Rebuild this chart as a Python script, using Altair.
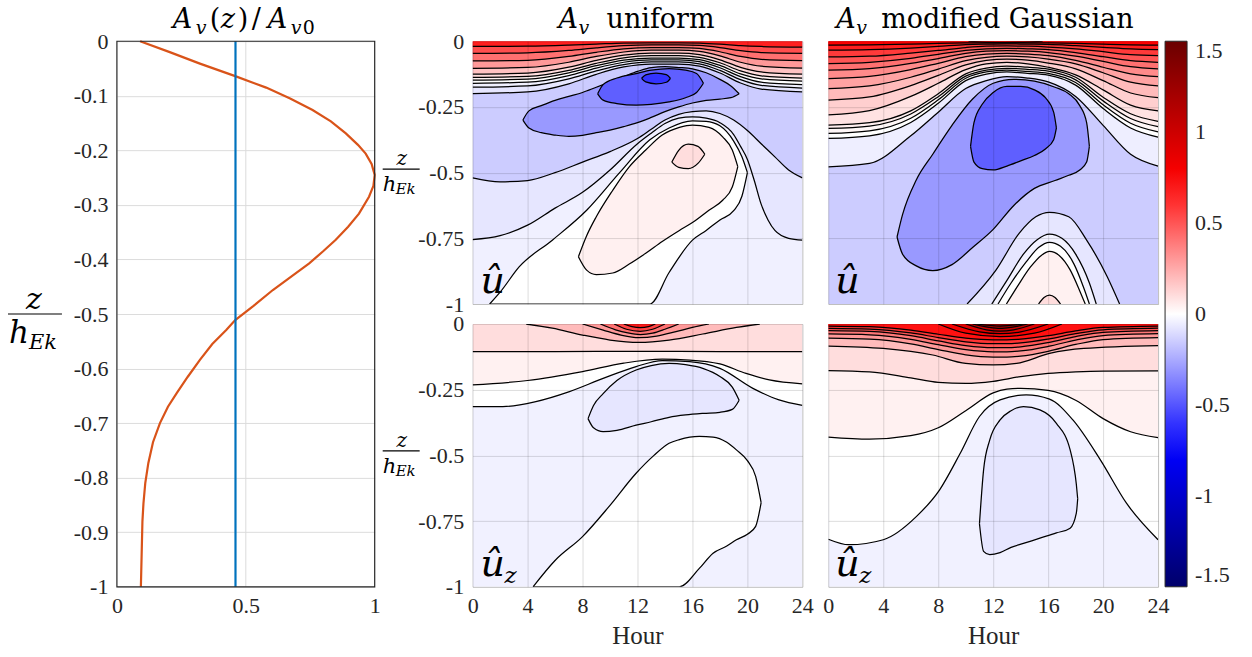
import altair as alt
import pandas as pd

SERIF = "Liberation Serif"
MATH = "DejaVu Serif"
INK = "#262626"

# ---------------- colour bar ----------------
CBAR_STOPS = [-1.5, -0.75, 0.0, 0.75, 1.5]
CBAR_COLORS = ["#00006a", "#0000ff", "#ffffff", "#ff0000", "#6a0000"]
CBAR_TICKS = [1.5, 1, 0.5, 0, -0.5, -1, -1.5]

# ---------------- axis ticks ----------------
HOUR_TICKS = [0, 4, 8, 12, 16, 20, 24]
DEPTH_TICKS = [0, -0.25, -0.5, -0.75, -1]
AV_X_TICKS = [0, 0.5, 1]
AV_Y_TICKS = [0, -0.1, -0.2, -0.3, -0.4, -0.5, -0.6, -0.7, -0.8, -0.9, -1]

# ---------------- left panel: A_v(z)/A_v0 ----------------
AV_DEPTH = [0, .02, .041, .064, .085, .105, .126, .147, .169, .19, .206, .225, .245, .265,
            .285, .316, .34, .364, .385, .407, .43, .456, .485, .511, .529, .555, .584, .615,
            .645, .67, .70, .735, .773, .81, .847, .88, .92, .96, 1.0]
AV_RATIO = [.09, .205, .322, .459, .579, .672, .759, .83, .888, .935, .965, .988, 1.0, .995,
            .978, .939, .897, .849, .80, .746, .68, .605, .53, .459, .425, .37, .322, .275,
            .232, .198, .167, .14, .122, .11, .103, .099, .097, .095, .093]
AV_UNIFORM = 0.46

# ---------------- panel 1: A_v uniform, u-hat (depths positive downward) ----------------
U_BG = -0.045
U_B_H = [0, 2, 4, 6, 8, 10, 12, 13, 14, 15, 16, 17, 18, 19, 19.5, 20, 20.5, 21, 21.5, 22, 23, 24]
U_B_D = [.755, .74, .70, .635, .575, .49, .39, .35, .313, .293, .288, .293, .31, .355, .40, .45,
         .53, .62, .68, .72, .75, .757]
U_A_H = [0, 2, 4, 6, 8, 10, 12, 13, 14, 15, 16, 17, 18, 19, 20, 21, 22, 23, 24]
U_A_D = [.52, .535, .53, .50, .46, .42, .37, .335, .30, .278, .268, .265, .275, .30, .34, .39,
         .44, .49, .52]
U_B9_H = [3.66, 4.1, 5, 6, 7, 8, 9, 10, 11, 12, 13, 14, 15, 16, 17, 18, 18.8, 19.4]
U_B9_T = [.30, .265, .245, .225, .21, .195, .175, .155, .135, .115, .10, .097, .10, .105, .12,
          .145, .17, .20]
U_B9_B = [.30, .33, .348, .357, .362, .358, .348, .338, .325, .31, .29, .268, .25, .235, .225,
          .22, .215, .20]
U_B6_H = [9.1, 9.5, 10.5, 11.9, 13, 14.3, 15.5, 16.3, 16.8]
U_B6_T = [.20, .165, .14, .123, .11, .104, .11, .123, .16]
U_B6_B = [.20, .224, .237, .243, .24, .231, .215, .195, .16]
U_B3_H = [12.3, 12.6, 13.35, 14.1, 14.4]
U_B3_T = [.141, .128, .121, .127, .141]
U_B3_B = [.141, .155, .162, .156, .141]
U_T_H = [1.24, 2, 3.4, 5.8, 8.3, 10.7, 12.9, 14.3, 16.0, 17.0, 18.0, 19.0, 19.6, 20.0]
U_T_T = [1.0, .955, .858, .757, .643, .50, .375, .33, .303, .305, .322, .38, .44, .50]
U_T_B = [1.0, 1.0, 1.0, 1.0, 1.0, 1.0, 1.0, .88, .757, .72, .68, .645, .59, .50]
U_P1_H = [7.7, 8.3, 9.0, 10.2, 11.4, 12.6, 13.8, 15.05, 16.0, 17.2, 18.2, 18.9, 19.3]
U_P1_T = [.82, .74, .668, .567, .478, .414, .357, .328, .319, .328, .364, .414, .477]
U_P1_B = [.82, .871, .888, .882, .848, .807, .762, .72, .69, .643, .605, .555, .477]
U_P2_H = [14.5, 15.0, 15.7, 16.4, 16.9]
U_P2_T = [.46, .415, .392, .40, .43]
U_P2_B = [.46, .48, .485, .465, .43]
U_L_H = [0, 4, 7, 9, 11, 13, 15, 16.5, 18, 19.5, 21, 24]
U_L1 = [.020, .019, .015, .011, .007, .006, .006, .007, .011, .017, .020, .022]
U_L2 = [.046, .044, .035, .025, .017, .014, .014, .016, .024, .036, .043, .046]
U_L3 = [.075, .0725, .058, .042, .029, .024, .024, .0275, .040, .058, .069, .074]
U_L4 = [.103, .0996, .080, .058, .041, .034, .034, .039, .056, .080, .095, .102]
U_L5 = [.125, .121, .0986, .073, .053, .045, .045, .0506, .0706, .0994, .117, .125]
U_L6 = [.138, .134, .111, .084, .063, .055, .055, .061, .082, .113, .1315, .140]
U_L7 = [.148, .144, .120, .093, .072, .064, .064, .070, .092, .124, .143, .152]
U_L8 = [.160, .156, .131, .102, .080, .071, .071, .078, .101, .135, .156, .165]
U_L9 = [.175, .170, .143, .113, .089, .079, .079, .086, .111, .146, .168, .178]
U_L10 = [.199, .193, .162, .126, .098, .087, .087, .095, .121, .159, .182, .193]
U_L_VALUES = [0.66, 0.52, 0.42, 0.30, 0.18, 0.10, 0.04, 0.0, -0.04, -0.075]

# ---------------- panel 2: A_v modified Gaussian, u-hat ----------------
G_BG = -0.15
G_M_H = [0, 3, 6, 8, 10, 11.5, 13, 14.5, 16, 18, 20, 22, 24]
G_M1 = [.015, .014, .011, .0085, .0065, .006, .006, .006, .0065, .0083, .011, .0137, .015]
G_M2 = [.034, .032, .026, .020, .013, .011, .010, .011, .012, .017, .023, .029, .032]
G_M3 = [.060, .057, .045, .035, .024, .019, .018, .019, .022, .029, .040, .051, .055]
G_M4 = [.085, .080, .065, .050, .035, .029, .027, .029, .032, .043, .059, .074, .080]
G_M5 = [.110, .104, .084, .066, .046, .038, .036, .038, .043, .057, .077, .097, .105]
G_M6 = [.142, .134, .108, .084, .059, .049, .046, .049, .055, .073, .099, .124, .135]
G_M7 = [.180, .170, .137, .106, .074, .061, .057, .060, .068, .086, .120, .156, .170]
G_M8 = [.224, .212, .169, .130, .090, .073, .068, .072, .083, .105, .150, .197, .215]
G_M9 = [.280, .264, .210, .160, .108, .086, .080, .086, .099, .128, .185, .243, .265]
G_M10 = [.319, .310, .265, .200, .124, .102, .095, .099, .106, .137, .213, .276, .305]
G_M11 = [.332, .323, .277, .211, .133, .110, .103, .107, .114, .147, .227, .294, .325]
G_M12 = [.351, .341, .293, .223, .141, .117, .110, .115, .122, .157, .242, .312, .345]
G_M13 = [.370, .360, .309, .236, .150, .125, .117, .122, .129, .167, .256, .330, .365]
G_M14 = [.478, .465, .360, .270, .180, .150, .135, .140, .155, .210, .320, .430, .475]
G_M_VALUES = [0.76, 0.66, 0.58, 0.50, 0.42, 0.34, 0.27, 0.20, 0.14, 0.085, 0.05, 0.025, 0.0, -0.05]
G_B9_H = [5.0, 5.4, 6.4, 7.6, 9.0, 10.5, 12, 13.5, 15, 16.5, 17.5, 18.3, 18.8, 19.0]
G_B9_T = [.745, .66, .528, .43, .32, .22, .16, .145, .152, .175, .20, .245, .31, .40]
G_B9_B = [.745, .81, .855, .873, .85, .785, .716, .625, .56, .53, .51, .49, .46, .40]
G_B6_H = [10.35, 10.6, 11.2, 12, 13, 14, 15, 15.8, 16.4, 16.6]
G_B6_T = [.40, .31, .24, .195, .172, .172, .185, .215, .27, .33]
G_B6_B = [.40, .46, .485, .49, .475, .455, .435, .41, .375, .33]
G_A1_H = [10.1, 12.2, 13.9, 15.1, 16.1, 17.5, 18.8, 20.3, 21.2]
G_A1_T = [1.0, .871, .73, .668, .651, .668, .757, .896, 1.0]
G_A2_H = [11.9, 13.0, 14.2, 15.2, 16.1, 17.0, 18.0, 19.0, 19.5]
G_A2_T = [1.0, .91, .81, .755, .734, .75, .81, .92, 1.0]
G_A3_H = [12.35, 13.3, 14.4, 15.3, 16.1, 16.9, 17.9, 18.6, 19.0]
G_A3_T = [1.0, .92, .84, .785, .765, .78, .85, .94, 1.0]
G_A4_H = [12.96, 13.8, 14.7, 15.5, 16.1, 16.8, 17.6, 18.3, 18.7]
G_A4_T = [1.0, .93, .86, .815, .80, .815, .87, .95, 1.0]
G_A5_H = [15.3, 15.7, 16.1, 16.5, 16.9]
G_A5_T = [1.0, .975, .966, .975, 1.0]
G_ARCH_VALUES = [-0.075, -0.035, 0.0, 0.04, 0.1]
G_CAP_H = [10.2, 11.5, 12.8, 14.2, 15.6]
G_CAP_D = [0, .004, .005, .004, 0]

# ---------------- panel 3: A_v uniform, u_z-hat ----------------
Z_BG = -0.04
Z_Z1_H = [0, 6, 12, 18, 24]
Z_Z1_D = [.105, .105, .104, .105, .105]
Z_Z2_H = [0, 4, 8, 11, 13.8, 15.8, 18, 19.9, 21.6, 24]
Z_Z2_D = [.232, .215, .181, .149, .134, .137, .152, .188, .213, .228]
Z_Z3_H = [0, 2.2, 4.6, 7.05, 9.5, 11.9, 13.8, 15.8, 18, 20.4, 22.3, 24]
Z_Z3_D = [.314, .314, .295, .257, .207, .162, .139, .143, .169, .245, .289, .31]
Z_C1_H = [3.9, 5.8, 8.0, 10.0, 12.1, 14.3, 16.75, 19.2, 20.9]
Z_C1_D = [0, .016, .042, .061, .07, .061, .038, .013, 0]
Z_C2_H = [8.0, 9.5, 10.8, 12.1, 13.4, 14.8, 16.0, 17.2]
Z_C2_D = [0, .023, .042, .052, .046, .029, .013, 0]
Z_C3_H = [9.3, 10.4, 11.3, 12.2, 13.1, 14.0, 15.0]
Z_C3_D = [0, .022, .034, .040, .035, .02, 0]
Z_C4_H = [10.3, 11.2, 12.2, 13.1, 14.0]
Z_C4_D = [0, .02, .028, .02, 0]
Z_C5_H = [11.0, 11.6, 12.2, 12.8, 13.3]
Z_C5_D = [0, .01, .014, .01, 0]
Z_CAP_VALUES = [0.2, 0.3, 0.42, 0.55, 0.68]
Z_BL_H = [8.4, 8.8, 9.5, 10.5, 11.9, 13, 14.3, 15.5, 16.8, 18, 18.9, 19.4]
Z_BL_T = [.36, .31, .265, .215, .175, .158, .15, .155, .17, .20, .24, .29]
Z_BL_B = [.36, .395, .41, .405, .385, .372, .355, .346, .34, .336, .325, .29]
Z_T_H = [4.4, 6, 8, 10, 11.9, 13.2, 14.3, 15.05, 16.5, 17.5, 18.5, 19.2, 20.0, 20.6, 21.0]
Z_T_T = [1.0, .90, .809, .69, .568, .50, .454, .44, .428, .43, .45, .479, .52, .58, .68]
Z_T_B = [1.0, 1.0, 1.0, 1.0, 1.0, 1.0, 1.0, 1.0, .93, .872, .845, .821, .80, .77, .68]

# ---------------- panel 4: A_v modified Gaussian, u_z-hat ----------------
W_BG = -0.04
W_N_H = [0, 3, 6, 8, 10, 12, 13, 14, 16, 18, 20, 24]
W_N1 = [.0076, .0102, .0233, .039, .0537, .060, .060, .0574, .0444, .0262, .0132, .008]
W_N2 = [.0165, .0194, .0341, .0516, .068, .075, .075, .0721, .0573, .0367, .0219, .016]
W_N3 = [.025, .0283, .0445, .064, .0822, .090, .090, .0868, .0705, .0478, .0315, .025]
W_N4 = [.038, .0414, .0584, .0788, .0978, .106, .106, .1026, .0853, .0612, .0439, .037]
W_N5 = [.054, .0576, .0756, .0972, .1174, .126, .126, .1223, .1038, .0779, .0594, .052]
W_N6_H = [0, 4, 7.6, 10, 12, 13.7, 16.1, 18.6, 24]
W_N6 = [.084, .093, .118, .15, .156, .15, .112, .093, .082]
W_N7_H = [0, 3, 6, 8, 10, 12, 14, 16, 18, 20, 24]
W_N7 = [.177, .182, .205, .222, .226, .218, .20, .188, .182, .179, .178]
W_N8_H = [0, 3, 6, 8, 10, 12, 13, 14, 16, 18, 20, 22, 24]
W_N8 = [.430, .438, .425, .395, .33, .262, .248, .245, .253, .29, .36, .41, .432]
W_N9_H = [0, 1.5, 4, 6.4, 8.1, 9.6, 11, 12.5, 14.4, 16.1, 17.8, 19.8, 21.7, 24]
W_N9 = [.819, .84, .821, .733, .631, .492, .352, .289, .27, .286, .365, .517, .682, .821]
W_N_VALUES = [0.7, 0.6, 0.5, 0.4, 0.3, 0.2, 0.1, 0.04, 0.0]
W_CA_H = [8, 10, 12.5, 15, 17]
W_CA_D = [0, .035, .048, .035, 0]
W_CB_H = [9, 11, 12.5, 14, 16]
W_CB_D = [0, .03, .037, .03, 0]
W_CC_H = [10, 11.5, 12.5, 13.5, 15]
W_CC_D = [0, .022, .027, .022, 0]
W_CD_H = [10.5, 11.7, 12.5, 13.3, 14.5]
W_CD_D = [0, .013, .017, .013, 0]
W_CE_H = [10.8, 12.5, 14.2]
W_CE_D = [0, .008, 0]
W_CAP_VALUES = [0.8, 0.92, 1.04, 1.16, 1.3]
W_BL_H = [11.0, 11.3, 11.75, 12.5, 13.3, 14.2, 15.4, 16.6, 17.6, 18.05, 18.15]
W_BL_T = [.76, .555, .441, .365, .33, .314, .327, .378, .479, .61, .665]
W_BL_B = [.76, .865, .878, .87, .85, .835, .815, .795, .777, .72, .665]


# ---------------- region helpers ----------------
def fill(v):
    return dict(h=[0, 24], top=[0.0, 0.0], bot=[1.0, 1.0], v=v, lt=False, lb=False)


def surface(hours, depth, v):
    return dict(h=hours, top=[0.0] * len(hours), bot=depth, v=v, lt=False, lb=True)


def blob(hours, top, bot, v, lt=True, lb=True):
    return dict(h=hours, top=top, bot=bot, v=v, lt=lt, lb=lb)


def arch(hours, top, v):
    return dict(h=hours, top=top, bot=[1.0] * len(hours), v=v, lt=True, lb=False)


P1 = [fill(U_BG), surface(U_B_H, U_B_D, -0.075), surface(U_A_H, U_A_D, -0.15),
      blob(U_B9_H, U_B9_T, U_B9_B, -0.3), blob(U_B6_H, U_B6_T, U_B6_B, -0.47),
      blob(U_B3_H, U_B3_T, U_B3_B, -0.6), blob(U_T_H, U_T_T, U_T_B, 0.0),
      blob(U_P1_H, U_P1_T, U_P1_B, 0.044), blob(U_P2_H, U_P2_T, U_P2_B, 0.1)]
for line, val in zip([U_L10, U_L9, U_L8, U_L7, U_L6, U_L5, U_L4, U_L3, U_L2, U_L1],
                     U_L_VALUES[::-1]):
    P1.append(surface(U_L_H, line, val))

P2 = [fill(G_BG), blob(G_B9_H, G_B9_T, G_B9_B, -0.3), blob(G_B6_H, G_B6_T, G_B6_B, -0.47)]
for hrs, tops, val in zip([G_A1_H, G_A2_H, G_A3_H, G_A4_H, G_A5_H],
                          [G_A1_T, G_A2_T, G_A3_T, G_A4_T, G_A5_T], G_ARCH_VALUES):
    P2.append(arch(hrs, tops, val))
for line, val in zip([G_M14, G_M13, G_M12, G_M11, G_M10, G_M9, G_M8, G_M7, G_M6, G_M5,
                      G_M4, G_M3, G_M2, G_M1], G_M_VALUES[::-1]):
    P2.append(surface(G_M_H, line, val))
P2.append(blob(G_CAP_H, [0.0] * len(G_CAP_H), G_CAP_D, 1.1, lt=False))

P3 = [fill(Z_BG), surface(Z_Z3_H, Z_Z3_D, 0.0), surface(Z_Z2_H, Z_Z2_D, 0.04),
      surface(Z_Z1_H, Z_Z1_D, 0.1)]
for hrs, d, val in zip([Z_C1_H, Z_C2_H, Z_C3_H, Z_C4_H, Z_C5_H],
                       [Z_C1_D, Z_C2_D, Z_C3_D, Z_C4_D, Z_C5_D], Z_CAP_VALUES):
    P3.append(surface(hrs, d, val))
P3 += [blob(Z_BL_H, Z_BL_T, Z_BL_B, -0.075), blob(Z_T_H, Z_T_T, Z_T_B, 0.0)]

P4 = [fill(W_BG)]
for hrs, line, val in zip([W_N9_H, W_N8_H, W_N7_H, W_N6_H, W_N_H, W_N_H, W_N_H, W_N_H, W_N_H],
                          [W_N9, W_N8, W_N7, W_N6, W_N5, W_N4, W_N3, W_N2, W_N1],
                          W_N_VALUES[::-1]):
    P4.append(surface(hrs, line, val))
for hrs, d, val in zip([W_CA_H, W_CB_H, W_CC_H, W_CD_H, W_CE_H],
                       [W_CA_D, W_CB_D, W_CC_D, W_CD_D, W_CE_D], W_CAP_VALUES):
    P4.append(surface(hrs, d, val))
P4.append(blob(W_BL_H, W_BL_T, W_BL_B, -0.075))

# ---------------- scales / axes ----------------
NEG_FMT = "datum.value == 0 ? '0' : (datum.value < 0 ? '-' : '') + format(abs(datum.value), '')"
XS = alt.Scale(domain=[0, 24], nice=False, zero=False)
YS = alt.Scale(domain=[-1, 0], nice=False, zero=False)
COLOR = alt.Color(
    "v:Q",
    scale=alt.Scale(domain=CBAR_STOPS, range=CBAR_COLORS, interpolate="rgb"),
    legend=alt.Legend(values=CBAR_TICKS, labelExpr=NEG_FMT, title=None, orient="none",
                      legendX=1049, legendY=0,
                      direction="vertical", gradientLength=546, gradientThickness=22,
                      gradientStrokeColor=INK, gradientStrokeWidth=1, labelFont=SERIF,
                      labelFontSize=22, labelColor=INK, labelOffset=8, labelBaseline="middle",
                      labelOverlap=False, padding=0),
)


def hour_axis(labels):
    return alt.Axis(values=HOUR_TICKS, labels=labels, title="Hour" if labels else None,
                    grid=True, gridColor="#000000", gridOpacity=0.14, ticks=False, domain=False,
                    zindex=1, labelFont=SERIF, labelFontSize=22, labelColor=INK, labelPadding=9,
                    labelFlush=False, labelOverlap=False, titleFont=SERIF, titleFontSize=25,
                    titleFontWeight="normal", titleColor=INK, titlePadding=7)


def depth_axis(labels):
    return alt.Axis(values=DEPTH_TICKS, labels=labels, labelExpr=NEG_FMT, title=None, grid=True,
                    gridColor="#000000", gridOpacity=0.14, ticks=False, domain=False, zindex=1,
                    labelFont=SERIF, labelFontSize=22, labelColor=INK, labelPadding=9,
                    labelFlush=False, labelOverlap=False)


ANN = pd.DataFrame({"k": [0]})


def word(s, x, y, size, italic=False, align="left", font=MATH):
    return alt.Chart(ANN).mark_text(
        text=s, align=align, baseline="alphabetic", font=font, fontSize=size,
        fontStyle="italic" if italic else "normal", color="black",
    ).encode(x=alt.value(x), y=alt.value(y))


def bar(x1, x2, y):
    return alt.Chart(ANN).mark_rule(color="black", strokeWidth=1.2).encode(
        x=alt.value(x1), x2=alt.value(x2), y=alt.value(y))


def anchor(x, y):
    # invisible corner marker that fixes the page extent
    return alt.Chart(ANN).mark_rule(opacity=0, strokeWidth=0).encode(
        x=alt.value(x), x2=alt.value(x + 1), y=alt.value(y))


def small_fraction(zb):
    return [word("z", -71, zb, 20, True, "center"), bar(-90, -53, zb + 4),
            word("h", -90, zb + 26, 21, True), word("Ek", -77, zb + 29, 15, True)]


def build_panel(regions, xaxis, yaxis, extras):
    X = alt.X("h:Q", scale=XS, axis=xaxis)
    YT = alt.Y("top:Q", scale=YS, axis=yaxis, stack=None)
    YB = alt.Y("bot:Q", scale=YS, axis=yaxis, stack=None)
    layers = []
    for r in regions:
        df = pd.DataFrame({"h": r["h"], "top": [-d for d in r["top"]],
                           "bot": [-d for d in r["bot"]], "v": [r["v"]] * len(r["h"])})
        base = alt.Chart(df)
        layers.append(base.mark_area(interpolate="monotone", clip=True, opacity=1).encode(
            x=X, y=YT, y2=alt.Y2("bot:Q"), color=COLOR))
        if r["lt"]:
            layers.append(base.mark_line(interpolate="monotone", clip=True, color="black",
                                         strokeWidth=1.25).encode(x=X, y=YT))
        if r["lb"]:
            layers.append(base.mark_line(interpolate="monotone", clip=True, color="black",
                                         strokeWidth=1.25).encode(x=X, y=YB))
    layers += extras
    return alt.layer(*layers).properties(width=330, height=263)


title_uniform = [word("A", 86, -13, 27, True), word("v", 106, -7, 19, True),
                 word("uniform", 134, -13, 27)]
title_gauss = [word("A", 8, -13, 27, True), word("v", 28, -7, 19, True),
               word("modified Gaussian", 53, -13, 27)]


def hat_u(x):
    return [word("û", x, 252, 38, True)]


def hat_uz(x):
    return [word("û", x, 252, 38, True), word("z", x + 24, 259, 23, True)]


p1 = build_panel(P1, hour_axis(False), depth_axis(True),
                 title_uniform + small_fraction(124) + hat_u(8))
p2 = build_panel(P2, hour_axis(False), depth_axis(False), title_gauss + hat_u(7))
p3 = build_panel(P3, hour_axis(True), depth_axis(True), small_fraction(123) + hat_uz(8))
p4 = build_panel(P4, hour_axis(True), depth_axis(False), hat_uz(7) + [anchor(422, 333)])

# ---------------- left panel (drawn across both grid rows) ----------------
RS = alt.Scale(domain=[0, 1], range=[0, 258], nice=False, zero=False)
ZS = alt.Scale(domain=[-1, 0], range=[546, 0], nice=False, zero=False)
AX_R = alt.Axis(values=AV_X_TICKS, labelExpr=NEG_FMT, title=None, grid=False,
                ticks=False, domain=False, labelFont=SERIF, labelFontSize=22, labelColor=INK,
                labelPadding=9, labelFlush=False, labelOverlap=False, offset=283)
AX_Z = alt.Axis(values=AV_Y_TICKS, labelExpr=NEG_FMT, title=None, grid=True, gridColor="#dcdcdc",
                ticks=False, domain=False, labelFont=SERIF, labelFontSize=22, labelColor=INK,
                labelPadding=9, labelFlush=False, labelOverlap=False)
av_df = pd.DataFrame({"r": AV_RATIO, "z": [-d for d in AV_DEPTH],
                      "i": list(range(len(AV_DEPTH)))})
span_df = pd.DataFrame({"r": [AV_X_TICKS[1], AV_UNIFORM], "kind": ["grid", "uniform"],
                        "z0": [-1.0, -1.0], "z1": [0.0, 0.0]})
grid_mid = alt.Chart(span_df).transform_filter("datum.kind == 'grid'").mark_rule(
    color="#dcdcdc", strokeWidth=1).encode(
    x=alt.X("r:Q", scale=RS, axis=AX_R), y=alt.Y("z0:Q", scale=ZS, axis=AX_Z), y2="z1:Q")
av_line = alt.Chart(av_df).mark_line(color="#D95319", strokeWidth=2.2).encode(
    x=alt.X("r:Q", scale=RS, axis=AX_R), y=alt.Y("z:Q", scale=ZS, axis=AX_Z), order="i:Q")
av_rule = alt.Chart(span_df).transform_filter("datum.kind == 'uniform'").mark_rule(
    color="#0072BD", strokeWidth=2.2).encode(
    x=alt.X("r:Q", scale=RS, axis=AX_R), y=alt.Y("z0:Q", scale=ZS, axis=AX_Z), y2="z1:Q")
frame_df = pd.DataFrame({"r": [0.0], "r2": [1.0], "z": [-1.0], "z2": [0.0]})
frame = alt.Chart(frame_df).mark_rect(fillOpacity=0, stroke=INK, strokeWidth=1.2).encode(
    x=alt.X("r:Q", scale=RS, axis=AX_R), x2="r2:Q",
    y=alt.Y("z:Q", scale=ZS, axis=AX_Z), y2="z2:Q")
left_text = [word("A", 56, -13, 27, True), word("v", 79, -7, 19, True),
             word("(", 93, -13, 27), word("z", 104, -13, 27, True), word(")", 121, -13, 27),
             word("/", 135, -13, 27), word("A", 151, -13, 27, True),
             word("v", 174, -7, 19, True), word("0", 186, -7, 19),
             word("z", -83, 268, 30, True, "center"), bar(-109, -55, 273),
             word("h", -108, 302, 31, True), word("Ek", -88, 308, 21, True),
             anchor(-117, -41)]
left = alt.layer(grid_mid, av_line, av_rule, frame, *left_text).properties(
    width=330, height=263, view=alt.ViewBackground(stroke=None))
blank = alt.layer(anchor(0, 0)).properties(
    width=330, height=263, view=alt.ViewBackground(stroke=None))

chart = alt.concat(left, p1, p2, blank, p3, p4, columns=3, bounds="flush",
                   spacing={"row": 20, "column": 26}).resolve_scale(
    x="independent", y="independent", color="shared").properties(
    autosize=alt.AutoSizeParams(type="pad"),
    padding=0,
).configure_view(stroke=INK, strokeWidth=1.2).configure(background="white")

chart.save("out.html", embed_options={"renderer": "svg", "actions": False})
